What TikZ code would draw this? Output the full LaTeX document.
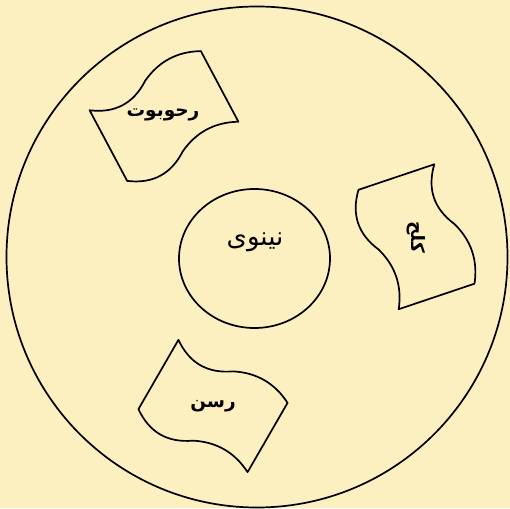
\documentclass[tikz,border=0pt]{standalone}
\usepackage{fontspec}
\usepackage{tikz}
\usetikzlibrary{positioning}
\TeXXeTstate=1
\newfontfamily\arabicfont[Script=Arabic]{DejaVu Sans}
\definecolor{parchment}{RGB}{252,240,193}
\definecolor{ink}{RGB}{0,0,0}
% wavy scroll outline, 126 x 80, centred on the origin
\newcommand{\scrolloutline}{%
  (-63,40) .. controls (-42,25.3) and (-21,25.3) .. (0,40)
           .. controls (21,50.7) and (42,50.7) .. (63,40)
  -- (63,-40) .. controls (42,-29.3) and (21,-29.3) .. (0,-40)
              .. controls (-21,-54.7) and (-42,-54.7) .. (-63,-40) -- cycle}

\begin{document}
\begin{tikzpicture}[x=1pt, y=1pt,
      scroll/.style={draw=ink, line width=1.7pt, line join=round},
      ring/.style={draw=ink, line width=1.7pt},
      city/.style={font=\arabicfont\fontsize{26}{30}\selectfont, text=ink, inner sep=1pt},
      cityname/.style={font=\arabicfont\bfseries\fontsize{18.5}{22}\selectfont, text=ink, inner sep=1pt}]
    \fill[parchment] (0,0) rectangle (510,508);
    \useasboundingbox (0,0) rectangle (510,508);
    % ----- outer land and the great city
    \draw[ring] (257,251) circle [radius=250.5];
    \draw[ring] (254.5,249.5) ellipse [x radius=75.5, y radius=69.5];
    \node[city] (nineveh) at (255,266) {\beginR نينوى\endR};
    % ----- Rehoboth
    \begin{scope}[shift={(164,392)}, rotate=28]
      \draw[scroll] \scrolloutline;
    \end{scope}
    \node[cityname] (rehoboth) at (163,393) {\beginR رحوبوت\endR};
    % ----- Calah
    \begin{scope}[shift={(416.5,271.25)}, rotate=-71.4]
      \draw[scroll] \scrolloutline;
    \end{scope}
    \node[cityname, rotate=-90] (calah) at (416,271) {\beginR كلح\endR};
    % ----- Resen
    \begin{scope}[shift={(213,102)}, rotate=-30]
      \draw[scroll] \scrolloutline;
    \end{scope}
    \node[cityname] (resen) at (213,102) {\beginR رسن\endR};
  \end{tikzpicture}
\end{document}
